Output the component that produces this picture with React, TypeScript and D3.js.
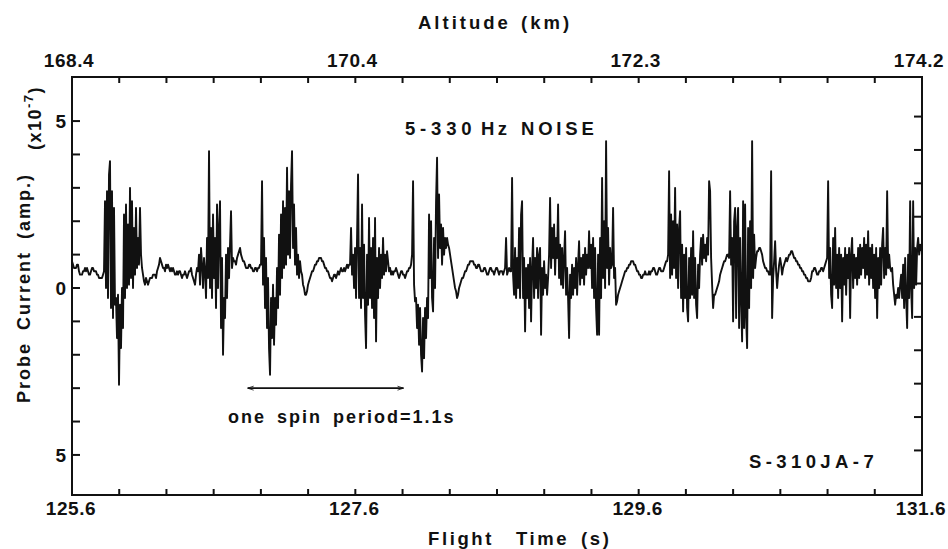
import React from 'react';
import * as d3 from 'd3';

const WIDTH = 948;
const HEIGHT = 549;
const BOX = { left: 72, right: 922, top: 77, bottom: 495 };
const FONT = '"Liberation Sans", Arial, Helvetica, sans-serif';
const INK = '#111';

// time axis (s) and the matching altitude readings (km)
const TIME_START = 125.6;
const TIME_END = 131.6;
const TIME_TICKS = d3.range(19).map((i) => TIME_START + i / 3);
const TIME_LABELS = [125.6, 127.6, 129.6, 131.6];
const ALTITUDE_LABELS = ['168.4', '170.4', '172.3', '174.2'];

// probe current (x10^-7 A)
const CURRENT_TICKS = d3.range(-5, 6);
const CURRENT_LABELS = [5, 0, -5];

// spin period marker
const SPIN_START = 126.84;
const SPIN_END = 127.94;
const SPIN_LEVEL = -3.0;

// telemetry, one sample every ~7 ms from 125.6 s
const SAMPLE_DT = 0.00706;
const SIGNAL = [
  0.8, 0.7, 0.6, 0.6, 0.6, 0.7, 0.7, 0.5, 0.4, 0.4,
  0.4, 0.5, 0.5, 0.6, 0.5, 0.6, 0.5, 0.4, 0.4, 0.5,
  0.6, 0.6, 0.5, 0.5, 0.5, 0.4, 0.4, 0.3, 0.3, 0.3,
  0.3, 0.4, 0.5, 2.6, 0.0, 2.9, -0.3, 3.4, 3.8, -0.6,
  2.9, -0.9, 2.4, -0.5, -0.3, -1.5, -0.2, -2.9, -0.5, -1.8,
  0.0, -1.2, 2.2, -0.3, 2.5, 0.0, 1.9, 0.1, 3.0, 0.3,
  2.6, 0.0, 1.8, 0.4, 2.4, 0.6, 1.5, 0.7, 2.4, 1.0,
  0.6, 0.4, 0.2, 0.1, 0.3, 0.2, 0.1, 0.2, 0.3, 0.3,
  0.3, 0.4, 0.4, 0.4, 0.3, 0.5, 0.6, 0.7, 0.9, 0.8,
  0.7, 0.6, 0.6, 0.5, 0.7, 0.6, 0.7, 0.6, 0.5, 0.6,
  0.5, 0.6, 0.5, 0.4, 0.4, 0.5, 0.4, 0.5, 0.5, 0.4,
  0.3, 0.4, 0.4, 0.5, 0.4, 0.3, 0.4, 0.5, 0.5, 0.6,
  0.4, 0.3, 0.2, 0.1, 0.4, 0.6, 0.5, 1.0, 0.1, 1.2,
  0.7, 0.0, 0.9, 0.5, -0.3, 1.5, 0.3, 4.1, 0.0, 1.8,
  -0.3, 2.2, 0.3, 1.5, -0.6, 2.5, 0.0, 1.8, 2.6, -1.2,
  0.9, -2.0, -0.3, -0.9, 1.0, -0.3, 1.2, 0.3, 1.3, 2.3,
  0.6, 0.9, 0.8, 0.8, 0.7, 0.9, 1.0, 1.1, 1.2, 1.0,
  0.9, 0.8, 0.8, 0.7, 0.6, 0.6, 0.6, 0.7, 0.7, 0.6,
  0.6, 0.5, 0.5, 0.6, 0.6, 0.5, 0.6, 0.6, 0.7, 0.7,
  3.2, 0.1, 1.5, -0.6, 0.9, -1.2, 0.3, -1.8, -2.6, -0.3,
  -1.5, 0.1, -1.7, -0.3, -1.1, 0.6, -0.6, 1.6, -0.2, 2.2,
  0.3, 2.6, 0.6, 2.4, 0.7, 3.6, 1.0, 2.9, 0.9, 3.1,
  4.1, 1.2, 2.5, 0.7, 1.8, 0.4, 1.0, 0.3, 0.8, 0.5,
  0.4, 0.1, 0.0, -0.2, -0.2, -0.1, 0.1, 0.2, 0.3, 0.4,
  0.5, 0.5, 0.6, 0.7, 0.7, 0.8, 0.8, 0.9, 0.9, 0.9,
  0.8, 0.8, 0.7, 0.6, 0.6, 0.5, 0.5, 0.4, 0.3, 0.3,
  0.2, 0.3, 0.4, 0.4, 0.3, 0.4, 0.5, 0.4, 0.5, 0.6,
  0.5, 0.5, 0.6, 0.5, 0.6, 0.7, 0.6, 0.7, 0.7, 1.8,
  0.4, 1.0, 0.0, 1.2, -0.3, 1.5, 3.4, -0.3, 1.2, -0.6,
  2.5, -0.3, 1.3, -0.8, -1.8, 1.0, -0.5, 2.1, -0.3, 1.2,
  -0.6, 1.5, -0.9, 2.1, -1.6, 0.9, -0.3, 1.2, 0.0, 1.0,
  0.3, 1.5, 0.4, 1.0, 0.5, 1.1, 0.8, 0.5, 0.6, 0.4,
  0.5, 0.4, 0.5, 0.5, 0.6, 0.5, 0.4, 0.3, 0.4, 0.5,
  0.5, 0.4, 0.4, 0.3, 0.4, 0.5, 0.5, 0.6, 0.6, 0.7,
  1.0, 3.2, 0.1, -0.4, -0.3, -1.2, -0.5, -1.7, -0.6, -2.0,
  -2.5, -0.9, -2.1, -0.6, -1.5, -0.3, -0.9, 2.2, 0.3, 2.0,
  -0.3, -0.7, 1.5, 0.0, 2.6, 3.9, 0.9, 2.8, 1.2, 1.9,
  0.7, 1.8, 1.0, 1.5, 1.2, 1.5, 1.3, 1.2, 1.0, 0.8,
  0.6, 0.4, 0.2, 0.0, -0.1, -0.3, -0.2, 0.0, 0.1, 0.2,
  0.3, 0.3, 0.4, 0.5, 0.5, 0.6, 0.7, 0.7, 0.8, 0.8,
  0.8, 0.8, 0.7, 0.7, 0.6, 0.6, 0.7, 0.7, 0.6, 0.5,
  0.5, 0.5, 0.6, 0.6, 0.5, 0.4, 0.4, 0.5, 0.6, 0.6,
  0.5, 0.5, 0.4, 0.5, 0.6, 0.6, 0.5, 0.4, 0.5, 0.5,
  0.5, 0.4, 0.5, 0.6, 1.5, 0.4, 0.5, 0.6, 0.5, 0.5,
  3.3, 0.4, -0.2, 1.2, -0.3, 0.9, 0.0, 1.8, -0.3, 2.2,
  2.6, -0.3, 0.9, -1.3, 0.6, -0.3, 0.7, -0.6, 0.9, -1.0,
  0.6, 1.5, -0.3, 0.9, 0.0, 1.2, -0.3, 1.0, 1.2, -1.4,
  0.6, -0.2, 0.8, 0.0, 0.4, -0.2, 0.3, 1.0, 2.7, 0.6,
  1.8, 0.9, 1.9, 0.4, 1.5, 0.9, 2.5, 0.3, 1.3, 0.1,
  1.2, 0.0, 0.9, 1.7, -0.2, 0.6, -0.3, -1.5, 0.4, -0.3,
  0.7, -0.2, 0.6, 0.0, 0.9, -0.2, 0.7, 1.4, 0.1, 0.9,
  0.3, 1.0, 0.1, 1.2, 0.4, 1.0, 0.6, 1.7, 0.6, 1.3,
  0.0, 1.5, -0.3, 1.2, -0.6, -1.4, 1.0, -1.4, 1.5, -0.3,
  3.3, 0.3, 2.0, 0.0, 4.4, 0.6, 1.8, 0.1, 1.2, 0.6,
  0.7, 2.4, 0.3, 0.6, -0.5, -0.4, -0.2, -0.1, 0.0, 0.1,
  0.2, 0.3, 0.4, 0.5, 0.5, 0.6, 0.6, 0.7, 0.7, 0.8,
  0.8, 0.8, 0.7, 0.7, 0.6, 0.5, 0.5, 0.4, 0.4, 0.3,
  0.3, 0.4, 0.4, 0.5, 0.4, 0.4, 0.4, 0.5, 0.4, 0.5,
  0.5, 0.6, 0.6, 0.5, 0.4, 0.4, 0.5, 0.6, 0.6, 0.5,
  0.5, 0.5, 0.6, 0.7, 0.8, 0.8, 1.0, 3.5, 0.3, 2.2,
  0.4, 2.0, 0.6, 3.0, 0.3, 1.9, 0.0, 1.8, 2.3, -0.3,
  1.3, -0.7, 1.0, -0.3, 1.2, -0.6, -1.0, 0.9, -0.3, 1.2,
  -0.2, 1.7, -0.3, 0.9, -0.5, -0.9, 0.7, 0.0, 1.0, 1.5,
  0.7, 1.6, 0.9, 1.3, 0.8, 1.5, 1.0, 3.2, 2.9, 0.9,
  0.1, -0.6, -0.2, -0.2, -0.1, 0.0, 0.1, 0.2, 0.4, 0.5,
  0.6, 0.7, 0.8, 0.8, 0.9, 1.0, 1.0, 0.9, 2.9, 0.7,
  1.5, -1.0, 2.0, 2.4, -0.9, 1.8, 2.4, -1.2, 1.5, -0.3,
  -1.6, 2.6, -1.2, 2.5, -0.9, -1.8, 1.8, -0.6, 2.0, 0.0,
  4.4, 0.3, 1.6, 0.6, 0.9, 1.1, 1.1, 1.2, 1.2, 1.1,
  1.0, 0.8, 0.7, 0.6, 0.6, 0.5, 0.5, 0.4, 0.4, 3.5,
  -0.9, 0.3, 0.8, 1.4, 0.5, 0.0, 0.4, 0.7, 0.9, 0.7,
  0.4, 0.6, 0.7, 0.8, 0.9, 0.8, 0.9, 1.0, 1.0, 1.1,
  1.1, 1.0, 0.9, 0.9, 0.8, 0.8, 0.7, 0.7, 0.6, 0.6,
  0.5, 0.5, 0.4, 0.4, 0.3, 0.3, 0.2, 0.2, 0.2, 0.3,
  0.5, 0.5, 0.6, 0.6, 0.5, 0.4, 0.4, 0.5, 0.5, 0.6,
  0.6, 0.5, 0.6, 0.7, 0.8, 0.9, 3.2, 0.3, 1.2, -0.2,
  -0.6, 1.5, 0.1, 1.8, 0.0, 1.0, -0.3, 1.2, 0.0, 1.0,
  -1.0, 0.9, 0.1, 1.2, -0.2, 1.0, 0.3, 1.2, -0.9, 1.0,
  1.5, 0.0, 1.0, 0.3, 0.9, 0.1, 1.2, 0.3, 1.3, 0.4,
  1.2, 0.6, 1.5, 0.3, 1.3, 0.4, 1.7, 0.1, 1.2, 0.3,
  1.3, 0.0, 1.0, -0.3, 1.2, -0.9, 0.9, 0.0, 1.2, 0.1,
  1.3, 1.8, 0.3, 1.2, 0.4, 2.9, 0.6, 1.0, 0.6, 0.5,
  0.6, 0.1, -0.2, -0.5, -0.2, -0.3, 0.0, -0.3, 0.1, 0.4,
  -0.3, 0.7, -0.6, 0.9, -0.3, -1.2, 1.0, -0.3, 2.6, 0.0,
  -0.9, 2.6, 0.0, 1.2, 0.1, 1.2, 1.5, 1.0, 1.3, 1.2,
  1.1,
];

const App = () => {
  const x = d3.scaleLinear().domain([TIME_START, TIME_END]).range([BOX.left, BOX.right]);
  const y = d3.scaleLinear().domain([-6.2, 6.32]).range([BOX.bottom, BOX.top]);

  const samples: [number, number][] = SIGNAL.map((v, i) => [TIME_START + i * SAMPLE_DT, v]);
  const trace = d3
    .line<[number, number]>()
    .x((d) => x(d[0]))
    .y((d) => y(d[1]))(samples);

  const textStyle = { fontFamily: FONT, fontWeight: 700, fill: INK } as const;

  return (
    <svg
      width={WIDTH}
      height={HEIGHT}
      style={{ position: 'absolute', left: 0, top: 0, background: '#fff' }}
    >
      {/* frame */}
      <rect
        x={BOX.left}
        y={BOX.top}
        width={BOX.right - BOX.left}
        height={BOX.bottom - BOX.top}
        fill="none"
        stroke={INK}
        strokeWidth={2}
      />

      {/* time ticks, top and bottom, pointing inward */}
      {TIME_TICKS.slice(1, -1).map((t, i) => (
        <g key={`tt-${i}`} stroke={INK} strokeWidth={2}>
          <line x1={x(t)} x2={x(t)} y1={BOX.top} y2={BOX.top + 6} />
          <line x1={x(t)} x2={x(t)} y1={BOX.bottom} y2={BOX.bottom - 6} />
        </g>
      ))}

      {/* current ticks, left and right */}
      {CURRENT_TICKS.map((c) => (
        <g key={`ct-${c}`} stroke={INK} strokeWidth={2}>
          <line x1={BOX.left} x2={BOX.left + 8} y1={y(c)} y2={y(c)} />
          <line x1={BOX.right} x2={BOX.right - 8} y1={y(c) - 4.5} y2={y(c) - 4.5} />
        </g>
      ))}

      {/* tick labels */}
      {TIME_LABELS.map((t) => (
        <text key={`tl-${t}`} x={x(t) - 1} y={515} textAnchor="middle" fontSize={19} letterSpacing={0.6} {...textStyle}>
          {t.toFixed(1)}
        </text>
      ))}
      {ALTITUDE_LABELS.map((a, i) => (
        <text key={`al-${a}`} x={x(TIME_LABELS[i]) - 3} y={67} textAnchor="middle" fontSize={19} letterSpacing={0.6} {...textStyle}>
          {a}
        </text>
      ))}
      {CURRENT_LABELS.map((c) => (
        <text key={`cl-${c}`} x={66} y={y(c) + 7} textAnchor="end" fontSize={19} {...textStyle}>
          {Math.abs(c)}
        </text>
      ))}

      {/* axis titles */}
      <text y={29} fontSize={18.5} letterSpacing={3} {...textStyle}>
        <tspan x={418}>Altitude</tspan>
        <tspan x={521}>(km)</tspan>
      </text>
      <text y={545} fontSize={18.5} letterSpacing={2.6} {...textStyle}>
        <tspan x={428}>Flight</tspan>
        <tspan x={516}>Time</tspan>
        <tspan x={581}>(s)</tspan>
      </text>
      <text
        transform={`translate(30, ${y(0)}) rotate(-90)`}
        textAnchor="middle"
        fontSize={18}
        letterSpacing={2}
        wordSpacing={5}
        {...textStyle}
      >
        Probe Current (amp.)
      </text>
      <text
        transform={`translate(41, 118) rotate(-90)`}
        textAnchor="middle"
        fontSize={18}
        letterSpacing={1.5}
        {...textStyle}
      >
        (x10<tspan fontSize={13} dy={-8}>-7</tspan>
        <tspan dy={8}>)</tspan>
      </text>

      {/* annotations */}
      <text y={135} fontSize={18.5} {...textStyle}>
        <tspan x={405} letterSpacing={4.8}>5-330</tspan>
        <tspan x={481} letterSpacing={3.5}>Hz</tspan>
        <tspan x={521} letterSpacing={3.8}>NOISE</tspan>
      </text>
      <text x={228} y={423} fontSize={18} letterSpacing={2} wordSpacing={4} {...textStyle}>
        one spin period=1.1s
      </text>
      <text x={749} y={468} fontSize={18.5} letterSpacing={4.4} {...textStyle}>
        S-310JA-7
      </text>

      {/* spin period bar */}
      <g stroke={INK}>
        <line x1={x(SPIN_START)} x2={x(SPIN_END)} y1={y(SPIN_LEVEL)} y2={y(SPIN_LEVEL)} strokeWidth={1.8} />
        <path
          d={`M${x(SPIN_START) + 6},${y(SPIN_LEVEL) - 2}L${x(SPIN_START)},${y(SPIN_LEVEL)}L${x(SPIN_START) + 6},${y(SPIN_LEVEL) + 2}`}
          fill="none"
          strokeWidth={0.8}
        />
        <path
          d={`M${x(SPIN_END) - 6},${y(SPIN_LEVEL) - 2}L${x(SPIN_END)},${y(SPIN_LEVEL)}L${x(SPIN_END) - 6},${y(SPIN_LEVEL) + 2}`}
          fill="none"
          strokeWidth={0.8}
        />
      </g>

      {/* probe current trace */}
      <path d={trace ?? ''} fill="none" stroke={INK} strokeWidth={1.9} strokeLinejoin="round" />
    </svg>
  );
};

export default App;
